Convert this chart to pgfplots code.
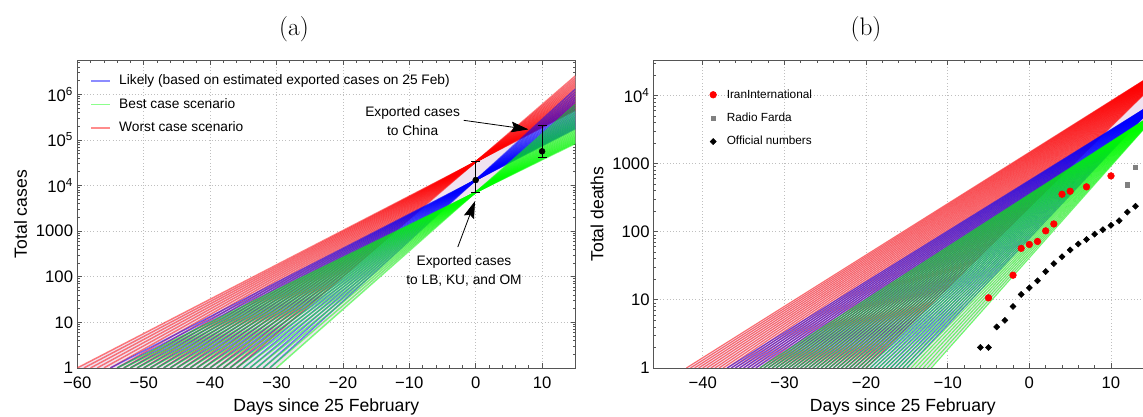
\documentclass[border=0pt]{standalone}
\usepackage{pgfplots}
\pgfplotsset{compat=1.18}
\usepackage{fontspec}
\setsansfont{Liberation Sans}
\usetikzlibrary{arrows.meta}
\definecolor{lav}{RGB}{240,226,240}
\definecolor{framegray}{RGB}{85,85,85}
\definecolor{fardagray}{RGB}{128,128,128}
\pgfplotsset{
  every axis/.append style={
    scale only axis, width=373.5pt, height=230.8pt,
    axis line style={framegray, line width=0.55pt},
    every tick/.style={framegray, line width=0.5pt},
    major tick length=3.5pt, minor tick length=2pt,
    tick align=inside,
    xmajorgrids, ymajorgrids,
    grid style={dotted, gray!50, line width=0.6pt},
    minor x tick num=4,
    ticklabel style={font=\sffamily\fontsize{12.5}{14}\selectfont},
    xticklabel style={inner sep=0pt, yshift=-6.2pt},
    yticklabel style={inner sep=0pt, xshift=-3pt},
    label style={font=\sffamily\fontsize{13.2}{15}\selectfont},
    xlabel style={at={(axis description cs:0.5,-0.141)}, anchor=base},
    ylabel style={at={(axis description cs:-0.1014,0.5)}, anchor=base},
  },
  rline/.style={color=red, draw opacity=0.5, line width=1.1pt, forget plot},
  bline/.style={color=blue, draw opacity=0.5, line width=1.1pt, forget plot},
  gline/.style={color=green, draw opacity=0.5, line width=1.1pt, forget plot},
  rl/.style={color=red, draw opacity=0.55, line width=0.85pt, forget plot},
  bl/.style={color=blue, draw opacity=0.55, line width=0.85pt, forget plot},
  gl/.style={color=green, draw opacity=0.55, line width=0.85pt, forget plot},
  legmark/.style={legend image code/.code={\draw[mark repeat=2,mark phase=2,##1] plot coordinates {(0pt,0pt) (2.5pt,0pt) (5pt,0pt)};}},
}
\begin{document}
\begin{tikzpicture}[font=\sffamily]
\useasboundingbox (0,0) rectangle (857.25pt,312.75pt);
% ---------------- (a) ----------------
\begin{axis}[ymode=log, at={(57.98pt,36.8pt)}, anchor=south west,
  xmin=-60, xmax=15, ymin=1, ymax=5600000,
  xtick={-60,-50,-40,-30,-20,-10,0,10},
  xticklabels={−60,−50,−40,−30,−20,−10,0,10},
  ytick={1,10,100,1000,10000,100000,1000000},
  yticklabels={1,10,100,1000,10\textsuperscript{4},10\textsuperscript{5},10\textsuperscript{6}},
  minor ytick={2,3,4,5,6,7,8,9,20,30,40,50,60,70,80,90,200,300,400,500,600,700,800,900,2000,3000,4000,5000,6000,7000,8000,9000,20000,30000,40000,50000,60000,70000,80000,90000,200000,300000,400000,500000,600000,700000,800000,900000,2000000,3000000,4000000,5000000},
  xlabel={Days since 25 February}, ylabel={Total cases},
  legend style={at={(axis description cs:0.0263,0.954)}, anchor=north west,
    draw=none, fill=none, inner sep=0pt,
    font=\sffamily\fontsize{10.3}{12}\selectfont,
    row sep=7.9pt, column sep=6.3pt,
    nodes={inner sep=0pt, text height=7.5pt, text depth=2.2pt}},
  legend cell align=left,
  legend image code/.code={\draw[#1, line width=1.1pt] (0pt,0pt) -- (14pt,0pt);},
]
\addplot[fill=lav, draw=none, forget plot] coordinates {(-60,1) (0,33113) (15,2529000) (15,83070) (0,7079) (-30,1)} -- cycle;
% worst case (red)
\addplot[rline] coordinates {(-60,1) (15,446700)};
\addplot[rline] coordinates {(-59,1) (15,466700)};
\addplot[rline] coordinates {(-58,1) (15,488700)};
\addplot[rline] coordinates {(-57,1) (15,511700)};
\addplot[rline] coordinates {(-56,1) (15,538300)};
\addplot[rline] coordinates {(-55,1) (15,566200)};
\addplot[rline] coordinates {(-54,1) (15,597000)};
\addplot[rline] coordinates {(-53,1) (15,629500)};
\addplot[rline] coordinates {(-52,1) (15,666800)};
\addplot[rline] coordinates {(-51,1) (15,706300)};
\addplot[rline] coordinates {(-50,1) (15,751600)};
\addplot[rline] coordinates {(-49,1) (15,801700)};
\addplot[rline] coordinates {(-48,1) (15,856000)};
\addplot[rline] coordinates {(-47,1) (15,918000)};
\addplot[rline] coordinates {(-46,1) (15,986000)};
\addplot[rline] coordinates {(-45,1) (15,1064000)};
\addplot[rline] coordinates {(-44,1) (15,1151000)};
\addplot[rline] coordinates {(-43,1) (15,1250000)};
\addplot[rline] coordinates {(-42,1) (15,1361000)};
\addplot[rline] coordinates {(-41,1) (15,1493000)};
\addplot[rline] coordinates {(-40,1) (15,1641000)};
\addplot[rline] coordinates {(-39,1) (15,1811000)};
\addplot[rline] coordinates {(-38,1) (15,2014000)};
\addplot[rline] coordinates {(-37,1) (15,2249000)};
\addplot[rline] coordinates {(-36,1) (15,2529000)};
% likely (blue)
\addplot[bline] coordinates {(-55,1) (15,175200)};
\addplot[bline] coordinates {(-54,1) (15,183800)};
\addplot[bline] coordinates {(-53,1) (15,193200)};
\addplot[bline] coordinates {(-52,1) (15,203500)};
\addplot[bline] coordinates {(-51,1) (15,214700)};
\addplot[bline] coordinates {(-50,1) (15,227000)};
\addplot[bline] coordinates {(-49,1) (15,240600)};
\addplot[bline] coordinates {(-48,1) (15,255600)};
\addplot[bline] coordinates {(-47,1) (15,272200)};
\addplot[bline] coordinates {(-46,1) (15,290700)};
\addplot[bline] coordinates {(-45,1) (15,311300)};
\addplot[bline] coordinates {(-44,1) (15,334600)};
\addplot[bline] coordinates {(-43,1) (15,360700)};
\addplot[bline] coordinates {(-42,1) (15,390300)};
\addplot[bline] coordinates {(-41,1) (15,424000)};
\addplot[bline] coordinates {(-40,1) (15,462400)};
\addplot[bline] coordinates {(-39,1) (15,506600)};
\addplot[bline] coordinates {(-38,1) (15,557600)};
\addplot[bline] coordinates {(-37,1) (15,617000)};
\addplot[bline] coordinates {(-36,1) (15,686600)};
\addplot[bline] coordinates {(-35,1) (15,768700)};
\addplot[bline] coordinates {(-34,1) (15,866100)};
\addplot[bline] coordinates {(-33,1) (15,983000)};
\addplot[bline] coordinates {(-32,1) (15,1125000)};
\addplot[bline] coordinates {(-31,1) (15,1299000)};
% best case (green)
\addplot[gline] coordinates {(-54,1) (15,83070)};
\addplot[gline] coordinates {(-53,1) (15,87020)};
\addplot[gline] coordinates {(-52,1) (15,91340)};
\addplot[gline] coordinates {(-51,1) (15,96030)};
\addplot[gline] coordinates {(-50,1) (15,101160)};
\addplot[gline] coordinates {(-49,1) (15,106800)};
\addplot[gline] coordinates {(-48,1) (15,113000)};
\addplot[gline] coordinates {(-47,1) (15,119900)};
\addplot[gline] coordinates {(-46,1) (15,127500)};
\addplot[gline] coordinates {(-45,1) (15,135900)};
\addplot[gline] coordinates {(-44,1) (15,145400)};
\addplot[gline] coordinates {(-43,1) (15,156000)};
\addplot[gline] coordinates {(-42,1) (15,167900)};
\addplot[gline] coordinates {(-41,1) (15,181400)};
\addplot[gline] coordinates {(-40,1) (15,196700)};
\addplot[gline] coordinates {(-39,1) (15,214200)};
\addplot[gline] coordinates {(-38,1) (15,234300)};
\addplot[gline] coordinates {(-37,1) (15,257500)};
\addplot[gline] coordinates {(-36,1) (15,284600)};
\addplot[gline] coordinates {(-35,1) (15,316200)};
\addplot[gline] coordinates {(-34,1) (15,353600)};
\addplot[gline] coordinates {(-33,1) (15,398100)};
\addplot[gline] coordinates {(-32,1) (15,451500)};
\addplot[gline] coordinates {(-31,1) (15,516300)};
\addplot[gline] coordinates {(-30,1) (15,595700)};
% exported-case estimates
\addplot[only marks, mark=*, mark size=2.2pt, black, forget plot,
  error bars/.cd, y dir=both, y explicit,
  error bar style={black, line width=0.6pt},
  error mark options={rotate=90, mark size=3.4pt, black, line width=0.6pt}]
  coordinates {(0,13183) += (0,19930) -= (0,6104) (10,56234) += (0,152766) -= (0,15534)};
\addlegendimage{color=blue!45}
\addlegendentry{Likely (based on estimated exported cases on 25 Feb)}
\addlegendimage{color=green!45}
\addlegendentry{Best case scenario}
\addlegendimage{color=red!45}
\addlegendentry{Worst case scenario}
\node[font=\sffamily\fontsize{10.3}{14.25}\selectfont, align=center] at (axis cs:-9.5,263000) {Exported cases\\to China};
\draw[-{Stealth[length=13pt,width=8pt,inset=2pt]}, line width=0.6pt] (axis cs:-1.8,269000) -- (axis cs:7.95,170000);
\node[font=\sffamily\fontsize{10.3}{14.25}\selectfont, align=center] at (axis cs:-1.76,137) {Exported cases\\to LB, KU, and OM};
\draw[-{Stealth[length=13pt,width=8pt,inset=2pt]}, line width=0.6pt] (axis cs:-2.7,447) -- (axis cs:-0.1,4571);
\end{axis}
% ---------------- (b) ----------------
\begin{axis}[ymode=log, at={(490.35pt,36.8pt)}, anchor=south west,
  xmin=-46, xmax=15, ymin=1, ymax=33000,
  xtick={-40,-30,-20,-10,0,10},
  xticklabels={−40,−30,−20,−10,0,10},
  ytick={1,10,100,1000,10000},
  yticklabels={1,10,100,1000,10\textsuperscript{4}},
  minor ytick={2,3,4,5,6,7,8,9,20,30,40,50,60,70,80,90,200,300,400,500,600,700,800,900,2000,3000,4000,5000,6000,7000,8000,9000,20000,30000},
  xlabel={Days since 25 February}, ylabel={Total deaths},
  legend style={at={(axis description cs:0.112,0.908)}, anchor=north west,
    draw=none, fill=none, inner sep=0pt,
    font=\sffamily\fontsize{8.85}{10}\selectfont,
    row sep=8.55pt, column sep=7.7pt,
    nodes={inner sep=0pt, text height=7pt, text depth=2pt}},
  legend cell align=left,
]
\addplot[fill=lav, draw=none, forget plot] coordinates {(-42,1) (15,19770) (15,4361) (-12,1)} -- cycle;
% red
\addplot[rl] coordinates {(-42,1) (15,19770)};
\addplot[rl] coordinates {(-41.5,1) (15,19660)};
\addplot[rl] coordinates {(-41,1) (15,19550)};
\addplot[rl] coordinates {(-40.5,1) (15,19430)};
\addplot[rl] coordinates {(-40,1) (15,19320)};
\addplot[rl] coordinates {(-39.5,1) (15,19210)};
\addplot[rl] coordinates {(-39,1) (15,19090)};
\addplot[rl] coordinates {(-38.5,1) (15,18970)};
\addplot[rl] coordinates {(-38,1) (15,18850)};
\addplot[rl] coordinates {(-37.5,1) (15,18730)};
\addplot[rl] coordinates {(-37,1) (15,18610)};
\addplot[rl] coordinates {(-36.5,1) (15,18490)};
\addplot[rl] coordinates {(-36,1) (15,18360)};
\addplot[rl] coordinates {(-35.5,1) (15,18230)};
\addplot[rl] coordinates {(-35,1) (15,18110)};
\addplot[rl] coordinates {(-34.5,1) (15,17980)};
\addplot[rl] coordinates {(-34,1) (15,17850)};
\addplot[rl] coordinates {(-33.5,1) (15,17720)};
\addplot[rl] coordinates {(-33,1) (15,17580)};
\addplot[rl] coordinates {(-32.5,1) (15,17450)};
\addplot[rl] coordinates {(-32,1) (15,17310)};
\addplot[rl] coordinates {(-31.5,1) (15,17170)};
\addplot[rl] coordinates {(-31,1) (15,17030)};
\addplot[rl] coordinates {(-30.5,1) (15,16890)};
\addplot[rl] coordinates {(-30,1) (15,16750)};
\addplot[rl] coordinates {(-29.5,1) (15,16600)};
\addplot[rl] coordinates {(-29,1) (15,16460)};
\addplot[rl] coordinates {(-28.5,1) (15,16310)};
\addplot[rl] coordinates {(-28,1) (15,16160)};
\addplot[rl] coordinates {(-27.5,1) (15,16010)};
\addplot[rl] coordinates {(-27,1) (15,15850)};
\addplot[rl] coordinates {(-26.5,1) (15,15700)};
\addplot[rl] coordinates {(-26,1) (15,15540)};
\addplot[rl] coordinates {(-25.5,1) (15,15380)};
\addplot[rl] coordinates {(-25,1) (15,15210)};
\addplot[rl] coordinates {(-24.5,1) (15,15050)};
\addplot[rl] coordinates {(-24,1) (15,14880)};
\addplot[rl] coordinates {(-23.5,1) (15,14720)};
\addplot[rl] coordinates {(-23,1) (15,14540)};
\addplot[rl] coordinates {(-22.5,1) (15,14370)};
\addplot[rl] coordinates {(-22,1) (15,14200)};
\addplot[rl] coordinates {(-21.5,1) (15,14030)};
\addplot[rl] coordinates {(-21,1) (15,13850)};
\addplot[rl] coordinates {(-20.5,1) (15,13670)};
\addplot[rl] coordinates {(-20,1) (15,13490)};
% blue
\addplot[bl] coordinates {(-37,1) (15,7420)};
\addplot[bl] coordinates {(-36.5,1) (15,7405)};
\addplot[bl] coordinates {(-36,1) (15,7390)};
\addplot[bl] coordinates {(-35.5,1) (15,7376)};
\addplot[bl] coordinates {(-35,1) (15,7362)};
\addplot[bl] coordinates {(-34.5,1) (15,7347)};
\addplot[bl] coordinates {(-34,1) (15,7332)};
\addplot[bl] coordinates {(-33.5,1) (15,7316)};
\addplot[bl] coordinates {(-33,1) (15,7300)};
\addplot[bl] coordinates {(-32.5,1) (15,7284)};
\addplot[bl] coordinates {(-32,1) (15,7268)};
\addplot[bl] coordinates {(-31.5,1) (15,7252)};
\addplot[bl] coordinates {(-31,1) (15,7235)};
\addplot[bl] coordinates {(-30.5,1) (15,7218)};
\addplot[bl] coordinates {(-30,1) (15,7200)};
\addplot[bl] coordinates {(-29.5,1) (15,7182)};
\addplot[bl] coordinates {(-29,1) (15,7164)};
\addplot[bl] coordinates {(-28.5,1) (15,7147)};
\addplot[bl] coordinates {(-28,1) (15,7129)};
\addplot[bl] coordinates {(-27.5,1) (15,7109)};
\addplot[bl] coordinates {(-27,1) (15,7089)};
\addplot[bl] coordinates {(-26.5,1) (15,7069)};
\addplot[bl] coordinates {(-26,1) (15,7048)};
\addplot[bl] coordinates {(-25.5,1) (15,7027)};
\addplot[bl] coordinates {(-25,1) (15,7005)};
\addplot[bl] coordinates {(-24.5,1) (15,6984)};
\addplot[bl] coordinates {(-24,1) (15,6962)};
\addplot[bl] coordinates {(-23.5,1) (15,6939)};
\addplot[bl] coordinates {(-23,1) (15,6916)};
\addplot[bl] coordinates {(-22.5,1) (15,6892)};
\addplot[bl] coordinates {(-22,1) (15,6868)};
\addplot[bl] coordinates {(-21.5,1) (15,6842)};
\addplot[bl] coordinates {(-21,1) (15,6816)};
\addplot[bl] coordinates {(-20.5,1) (15,6791)};
\addplot[bl] coordinates {(-20,1) (15,6765)};
\addplot[bl] coordinates {(-19.5,1) (15,6737)};
\addplot[bl] coordinates {(-19,1) (15,6709)};
\addplot[bl] coordinates {(-18.5,1) (15,6680)};
\addplot[bl] coordinates {(-18,1) (15,6651)};
\addplot[bl] coordinates {(-17.5,1) (15,6621)};
\addplot[bl] coordinates {(-17,1) (15,6590)};
\addplot[bl] coordinates {(-16.5,1) (15,6558)};
\addplot[bl] coordinates {(-16,1) (15,6525)};
\addplot[bl] coordinates {(-15.5,1) (15,6491)};
\addplot[bl] coordinates {(-15,1) (15,6456)};
% green
\addplot[gl] coordinates {(-33,1) (15,5107)};
\addplot[gl] coordinates {(-32.5,1) (15,5096)};
\addplot[gl] coordinates {(-32,1) (15,5085)};
\addplot[gl] coordinates {(-31.5,1) (15,5074)};
\addplot[gl] coordinates {(-31,1) (15,5062)};
\addplot[gl] coordinates {(-30.5,1) (15,5050)};
\addplot[gl] coordinates {(-30,1) (15,5037)};
\addplot[gl] coordinates {(-29.5,1) (15,5025)};
\addplot[gl] coordinates {(-29,1) (15,5012)};
\addplot[gl] coordinates {(-28.5,1) (15,4999)};
\addplot[gl] coordinates {(-28,1) (15,4986)};
\addplot[gl] coordinates {(-27.5,1) (15,4973)};
\addplot[gl] coordinates {(-27,1) (15,4959)};
\addplot[gl] coordinates {(-26.5,1) (15,4945)};
\addplot[gl] coordinates {(-26,1) (15,4930)};
\addplot[gl] coordinates {(-25.5,1) (15,4916)};
\addplot[gl] coordinates {(-25,1) (15,4901)};
\addplot[gl] coordinates {(-24.5,1) (15,4886)};
\addplot[gl] coordinates {(-24,1) (15,4870)};
\addplot[gl] coordinates {(-23.5,1) (15,4854)};
\addplot[gl] coordinates {(-23,1) (15,4838)};
\addplot[gl] coordinates {(-22.5,1) (15,4822)};
\addplot[gl] coordinates {(-22,1) (15,4805)};
\addplot[gl] coordinates {(-21.5,1) (15,4787)};
\addplot[gl] coordinates {(-21,1) (15,4769)};
\addplot[gl] coordinates {(-20.5,1) (15,4751)};
\addplot[gl] coordinates {(-20,1) (15,4733)};
\addplot[gl] coordinates {(-19.5,1) (15,4714)};
\addplot[gl] coordinates {(-19,1) (15,4694)};
\addplot[gl] coordinates {(-18.5,1) (15,4674)};
\addplot[gl] coordinates {(-18,1) (15,4653)};
\addplot[gl] coordinates {(-17.5,1) (15,4632)};
\addplot[gl] coordinates {(-17,1) (15,4611)};
\addplot[gl] coordinates {(-16.5,1) (15,4589)};
\addplot[gl] coordinates {(-16,1) (15,4566)};
\addplot[gl] coordinates {(-15.5,1) (15,4543)};
\addplot[gl] coordinates {(-15,1) (15,4519)};
\addplot[gl] coordinates {(-14.5,1) (15,4494)};
\addplot[gl] coordinates {(-14,1) (15,4469)};
\addplot[gl] coordinates {(-13.5,1) (15,4443)};
\addplot[gl] coordinates {(-13,1) (15,4417)};
\addplot[gl] coordinates {(-12.5,1) (15,4389)};
\addplot[gl] coordinates {(-12,1) (15,4361)};
% reported deaths
\addplot[only marks, mark=*, mark size=2.5pt, color=red, legmark]
  coordinates {(-5,10.7) (-2,23) (-1,57) (0,65) (1,72) (2,103) (3,130) (4,355) (5,393) (7,456) (10,660)};
\addlegendentry{IranInternational}
\addplot[only marks, mark=square*, mark size=1.6pt, color=fardagray, legmark]
  coordinates {(12,487) (13,875)};
\addlegendentry{Radio Farda}
\addplot[only marks, mark=square*, mark size=1.6pt, mark options={rotate=45}, color=black, legmark]
  coordinates {(-6,2) (-5,2) (-4,4) (-3,5) (-2,8) (-1,12) (0,15) (1,19) (2,26) (3,34) (4,43) (5,54) (6,66) (7,77) (8,92) (9,107) (10,124) (11,145) (12,194) (13,237)};
\addlegendentry{Official numbers}
\end{axis}
\node[font=\rmfamily\fontsize{19}{22}\selectfont, anchor=base] at (220.5pt,286.2pt) {(a)};
\node[font=\rmfamily\fontsize{19}{22}\selectfont, anchor=base] at (649.5pt,286.2pt) {(b)};
\end{tikzpicture}
\end{document}
